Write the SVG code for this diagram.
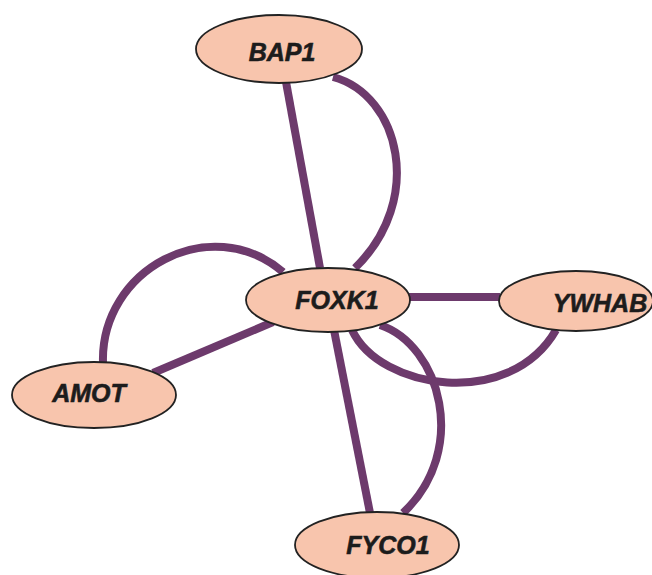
<svg xmlns="http://www.w3.org/2000/svg" width="652" height="575" viewBox="0 0 652 575">
<style>
.edge{fill:none;stroke:#6d3a6c;stroke-width:8;stroke-linecap:butt}
.node ellipse{fill:#f8c5ad;stroke:#222;stroke-width:1.8}
.node text{font-family:"Liberation Sans",Arial,sans-serif;font-weight:bold;font-style:italic;font-size:25px;fill:#1c1c1c;stroke:#1c1c1c;stroke-width:0.6;text-anchor:middle;dominant-baseline:central}
</style>
<rect width="652" height="575" fill="#fff"/>
<g id="edges">
<path class="edge" d="M286,82 L320,268"/>
<path class="edge" d="M333,77 C400,95 425,200 355,268"/>
<path class="edge" d="M103,363 C100,270 210,210 283,272"/>
<path class="edge" d="M153,373 L273,322"/>
<path class="edge" d="M408,297 L500,297"/>
<path class="edge" d="M352,330 C380,390 510,410 556,330"/>
<path class="edge" d="M334,330 L370,513"/>
<path class="edge" d="M380,325 C440,345 470,450 403,513"/>
</g>
<g id="BAP1" class="node"><ellipse cx="279" cy="49" rx="83" ry="34"/><text x="282" y="52">BAP1</text></g>
<g id="FOXK1" class="node"><ellipse cx="328" cy="300" rx="82" ry="32"/><text x="337" y="300">FOXK1</text></g>
<g id="YWHAB" class="node"><ellipse cx="576" cy="301" rx="77" ry="30"/><text x="600" y="303">YWHAB</text></g>
<g id="AMOT" class="node"><ellipse cx="94" cy="395" rx="82" ry="33"/><text x="89" y="393">AMOT</text></g>
<g id="FYCO1" class="node"><ellipse cx="377" cy="545" rx="82" ry="33"/><text x="388" y="545">FYCO1</text></g>
</svg>
